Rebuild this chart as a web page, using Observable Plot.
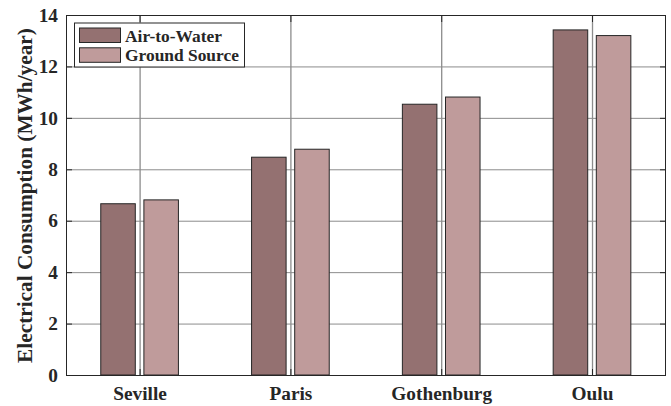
<!DOCTYPE html>
<html>
<head>
<meta charset="utf-8">
<script src="https://cdn.jsdelivr.net/npm/d3@7"></script>
<script src="https://cdn.jsdelivr.net/npm/@observablehq/plot@0.6"></script>
<style>
  body { margin: 0; background: #fff; }
  #chart { width: 671px; height: 406px; }
</style>
</head>
<body>
<div id="chart"></div>
<script>
// Annual electrical consumption of two heat-pump types in four cities
const cities = ["Seville", "Paris", "Gothenburg", "Oulu"];
const seriesNames = ["Air-to-Water", "Ground Source"];
const airToWater = [6.66, 8.47, 10.53, 13.42];
const groundSource = [6.81, 8.78, 10.81, 13.20];
const yTicks = [0, 2, 4, 6, 8, 10, 12, 14];
const seriesColors = ["#947171", "#bf9b9b"];
const yTitle = "Electrical Consumption (MWh/year)";

// grouped-bar geometry, in category units
const barWidth = 0.229;
const barOffset = [-0.143, 0.143];
const catPos = cities.map((c, i) => i + 1);

const rows = cities.flatMap((city, i) => [
  {city, pos: i + 1, k: 0, series: seriesNames[0], value: airToWater[i]},
  {city, pos: i + 1, k: 1, series: seriesNames[1], value: groundSource[i]}
]);

const font = "'Liberation Serif', 'Times New Roman', serif";
const ink = "#262626";
const gridColor = "#8c8c8c";

const svgNode = Plot.plot({
  width: 671,
  height: 406,
  marginLeft: 66,
  marginRight: 6,
  marginTop: 15,
  marginBottom: 31,
  style: {fontFamily: font, fontWeight: "bold", fontSize: "19.3px", color: ink, background: "#fff"},
  x: {domain: [0.512, 4.484]},
  y: {domain: [0, 14]},
  color: {domain: seriesNames, range: seriesColors},
  marks: [
    Plot.ruleY(yTicks, {stroke: gridColor, strokeWidth: 1}),
    Plot.ruleX(catPos, {stroke: gridColor, strokeWidth: 1.3}),
    Plot.rectY(rows, {
      x1: d => d.pos + barOffset[d.k] - barWidth / 2,
      x2: d => d.pos + barOffset[d.k] + barWidth / 2,
      y1: 0,
      y2: "value",
      fill: "series",
      stroke: ink,
      strokeWidth: 1
    }),
    Plot.frame({stroke: ink, strokeWidth: 1}),
    Plot.axisX({ticks: catPos, tickFormat: v => cities[v - 1], tickSize: -6, tickPadding: 17, label: null, stroke: ink, fill: ink, fontWeight: "bold"}),
    Plot.axisX({anchor: "top", ticks: catPos, tickFormat: () => "", tickSize: -6, label: null, stroke: ink}),
    Plot.axisY({ticks: yTicks, tickSize: -6, tickPadding: 14.5, label: null, stroke: ink, fill: ink, fontWeight: "bold", fontVariant: "normal"}),
    Plot.axisY({anchor: "right", ticks: yTicks, tickFormat: () => "", tickSize: -6, label: null, stroke: ink}),
    Plot.text([yTitle], {
      frameAnchor: "left",
      textAnchor: "middle",
      rotate: -90,
      dx: -41.5,
      fontSize: 21.3,
      fontWeight: "bold",
      fill: ink
    })
  ]
});

document.getElementById("chart").appendChild(svgNode);

// legend box in the upper-left corner of the axes
const svg = d3.select(svgNode);
const lg = svg.append("g")
  .attr("font-family", font)
  .attr("font-weight", "bold")
  .attr("text-anchor", "start");
lg.append("rect")
  .attr("x", 74.5).attr("y", 23).attr("width", 170).attr("height", 44)
  .attr("fill", "#fff").attr("stroke", ink).attr("stroke-width", 1);
seriesNames.forEach((name, i) => {
  lg.append("rect")
    .attr("x", 79.5).attr("y", 28 + i * 19.8).attr("width", 41).attr("height", 14.5)
    .attr("fill", seriesColors[i]).attr("stroke", ink).attr("stroke-width", 1);
  lg.append("text")
    .attr("x", 125).attr("y", 41.5 + i * 19.8)
    .attr("fill", ink)
    .style("font-size", "17.4px")
    .text(name);
});
</script>
</body>
</html>
